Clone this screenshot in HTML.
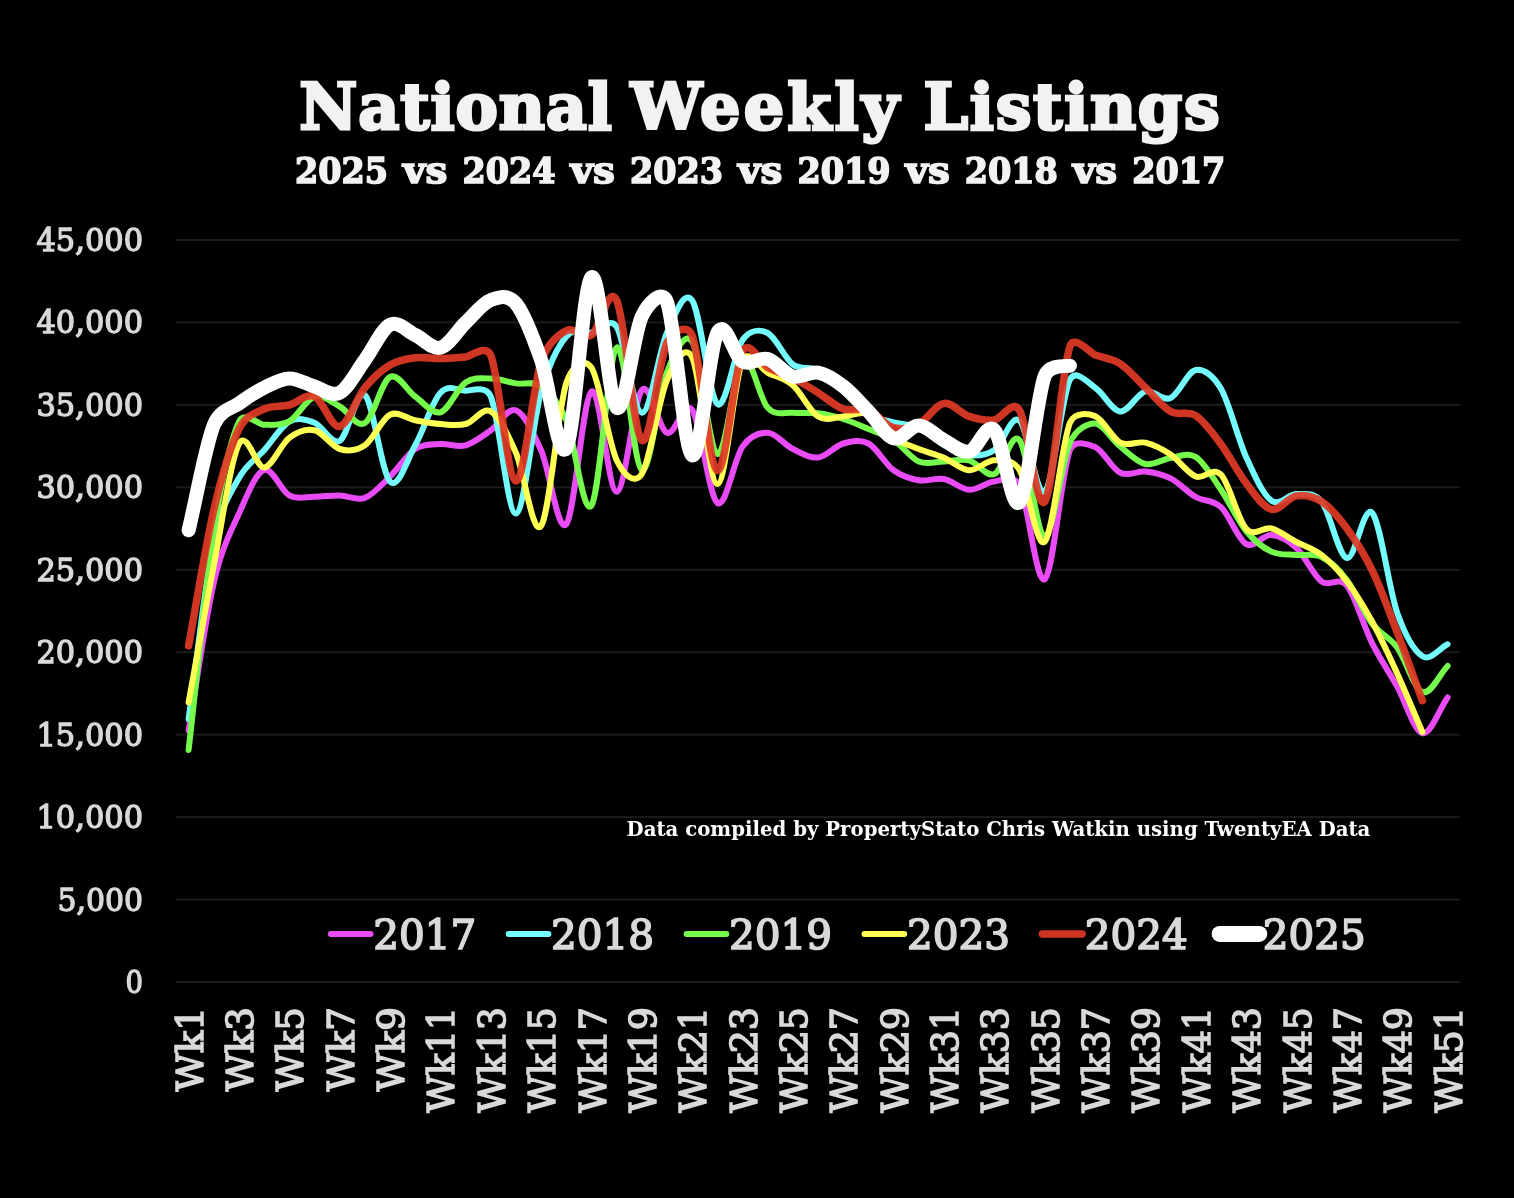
<!DOCTYPE html><html><head><meta charset="utf-8"><title>National Weekly Listings</title>
<style>html,body{margin:0;padding:0;background:#000}svg{display:block}text{font-family:"DejaVu Serif","Liberation Serif",serif}</style></head><body>
<svg width="1514" height="1198" viewBox="0 0 1514 1198">
<rect width="1514" height="1198" fill="#000"/>
<rect x="176" y="981.0" width="1284" height="2" fill="#1b1b1b"/>
<rect x="176" y="898.6" width="1284" height="2" fill="#1b1b1b"/>
<rect x="176" y="816.1" width="1284" height="2" fill="#1b1b1b"/>
<rect x="176" y="733.7" width="1284" height="2" fill="#1b1b1b"/>
<rect x="176" y="651.2" width="1284" height="2" fill="#1b1b1b"/>
<rect x="176" y="568.8" width="1284" height="2" fill="#1b1b1b"/>
<rect x="176" y="486.3" width="1284" height="2" fill="#1b1b1b"/>
<rect x="176" y="403.9" width="1284" height="2" fill="#1b1b1b"/>
<rect x="176" y="321.4" width="1284" height="2" fill="#1b1b1b"/>
<rect x="176" y="239.0" width="1284" height="2" fill="#1b1b1b"/>
<text x="143" y="993.0" text-anchor="end" font-size="32" fill="#d9d9d9" stroke="#d9d9d9" stroke-width="1.4" textLength="17.5" lengthAdjust="spacingAndGlyphs">0</text>
<text x="143" y="910.6" text-anchor="end" font-size="32" fill="#d9d9d9" stroke="#d9d9d9" stroke-width="1.4" textLength="85.5" lengthAdjust="spacingAndGlyphs">5,000</text>
<text x="143" y="828.1" text-anchor="end" font-size="32" fill="#d9d9d9" stroke="#d9d9d9" stroke-width="1.4" textLength="106.5" lengthAdjust="spacingAndGlyphs">10,000</text>
<text x="143" y="745.7" text-anchor="end" font-size="32" fill="#d9d9d9" stroke="#d9d9d9" stroke-width="1.4" textLength="106.5" lengthAdjust="spacingAndGlyphs">15,000</text>
<text x="143" y="663.2" text-anchor="end" font-size="32" fill="#d9d9d9" stroke="#d9d9d9" stroke-width="1.4" textLength="106.5" lengthAdjust="spacingAndGlyphs">20,000</text>
<text x="143" y="580.8" text-anchor="end" font-size="32" fill="#d9d9d9" stroke="#d9d9d9" stroke-width="1.4" textLength="106.5" lengthAdjust="spacingAndGlyphs">25,000</text>
<text x="143" y="498.3" text-anchor="end" font-size="32" fill="#d9d9d9" stroke="#d9d9d9" stroke-width="1.4" textLength="106.5" lengthAdjust="spacingAndGlyphs">30,000</text>
<text x="143" y="415.9" text-anchor="end" font-size="32" fill="#d9d9d9" stroke="#d9d9d9" stroke-width="1.4" textLength="106.5" lengthAdjust="spacingAndGlyphs">35,000</text>
<text x="143" y="333.4" text-anchor="end" font-size="32" fill="#d9d9d9" stroke="#d9d9d9" stroke-width="1.4" textLength="106.5" lengthAdjust="spacingAndGlyphs">40,000</text>
<text x="143" y="251.0" text-anchor="end" font-size="32" fill="#d9d9d9" stroke="#d9d9d9" stroke-width="1.4" textLength="106.5" lengthAdjust="spacingAndGlyphs">45,000</text>
<path d="M188.6 730.5C197.0 681.2 205.4 618.9 213.8 582.7C222.1 546.8 230.6 532.1 239.0 513.5C247.4 494.7 255.7 472.9 264.1 469.9C272.5 466.9 280.9 490.9 289.3 495.4C297.7 499.9 306.1 496.7 314.5 496.7C322.9 496.7 331.3 495.2 339.7 495.4C348.1 495.6 356.5 501.0 364.9 497.9C373.3 494.8 381.6 484.8 390.0 476.6C398.4 468.5 406.8 454.4 415.2 449.0C423.6 443.6 432.0 444.6 440.4 444.0C448.8 443.4 457.2 447.6 465.6 445.3C474.0 443.0 482.4 436.1 490.8 430.3C499.2 424.5 507.5 407.0 515.9 410.3C524.3 413.6 532.7 431.3 541.1 450.3C549.5 469.3 557.9 534.0 566.3 524.2C574.7 514.4 583.1 396.9 591.5 391.5C599.9 386.1 608.3 491.9 616.7 491.7C625.1 491.5 633.4 400.0 641.8 390.2C650.2 380.4 658.6 429.5 667.0 432.8C675.4 436.1 683.8 398.3 692.2 410.0C700.6 421.7 709.0 496.9 717.4 503.0C725.8 509.1 734.2 458.3 742.6 446.6C750.9 434.9 759.4 432.4 767.7 432.8C776.1 433.2 784.5 444.9 792.9 449.0C801.3 453.1 809.7 458.4 818.1 457.5C826.5 456.6 834.9 445.8 843.3 443.5C851.7 441.2 860.1 439.0 868.5 443.5C876.9 448.0 885.2 464.2 893.6 470.3C902.0 476.4 910.4 478.9 918.8 480.3C927.2 481.8 935.6 477.4 944.0 479.0C952.4 480.6 960.8 489.4 969.2 489.8C977.6 490.2 986.0 482.3 994.4 481.5C1000.2 480.9 1013.7 473.7 1019.5 485.0C1027.9 501.3 1036.3 585.0 1044.7 579.2C1053.1 573.4 1061.5 472.2 1069.9 450.2C1074.4 438.3 1090.6 445.0 1095.1 447.0C1103.5 450.8 1111.9 468.7 1120.3 472.8C1128.7 476.9 1137.0 470.6 1145.4 471.5C1153.8 472.4 1162.2 474.1 1170.6 478.4C1179.0 482.6 1187.4 492.2 1195.8 497.0C1204.2 501.8 1212.6 499.3 1221.0 507.1C1229.4 514.9 1237.8 539.4 1246.2 544.0C1254.6 548.6 1262.9 534.3 1271.3 535.0C1279.7 535.7 1288.1 540.2 1296.5 548.0C1304.9 555.8 1313.3 575.4 1321.7 581.6C1329.8 587.6 1338.8 575.6 1346.9 585.5C1355.3 595.8 1363.7 626.4 1372.1 643.2C1380.5 660.0 1388.8 671.5 1397.2 686.5C1405.6 701.5 1414.0 731.4 1422.4 733.2C1430.8 735.0 1439.2 709.3 1447.6 697.4" fill="none" stroke="#e94bf6" stroke-width="6" stroke-linecap="round" stroke-linejoin="round"/>
<path d="M188.6 719.2C197.0 659.3 205.4 579.7 213.8 539.5C220.6 506.9 232.2 489.9 239.0 477.9C247.4 463.0 255.7 459.7 264.1 450.3C272.5 440.9 280.9 426.1 289.3 421.5C297.7 416.9 306.1 419.6 314.5 422.8C322.9 426.0 331.3 445.4 339.7 440.8C348.1 436.2 356.5 388.4 364.9 395.2C373.3 402.0 381.6 473.2 390.0 481.6C398.4 490.0 406.8 460.1 415.2 445.3C423.6 430.5 432.0 401.8 440.4 392.7C448.8 383.6 457.2 390.1 465.6 390.7C470.5 391.1 485.9 384.5 490.8 396.5C499.2 417.0 507.5 514.2 515.9 513.5C524.3 512.8 532.7 421.5 541.1 392.0C549.5 362.7 558.0 346.3 566.3 336.5C574.5 326.8 583.2 334.2 591.5 332.6C598.3 331.3 609.8 316.1 616.7 327.0C625.1 340.4 633.4 411.9 641.8 412.8C650.2 413.7 658.6 351.3 667.0 332.6C675.4 314.0 683.9 288.7 692.2 300.5C700.6 312.4 709.0 397.4 717.4 404.0C725.8 410.6 734.2 351.8 742.6 340.0C750.1 329.3 760.2 329.3 767.7 333.0C776.1 337.1 784.5 358.3 792.9 364.5C801.3 370.7 809.7 365.6 818.1 370.0C826.5 374.4 834.9 383.7 843.3 391.0C851.7 398.3 860.1 408.8 868.5 414.0C876.9 419.2 885.2 420.2 893.6 422.5C902.0 424.8 910.4 423.9 918.8 427.7C927.2 431.4 935.6 440.4 944.0 445.0C952.4 449.6 960.8 454.5 969.2 455.3C977.6 456.1 986.0 455.8 994.4 450.0C1002.8 444.2 1011.1 413.7 1019.5 420.6C1027.9 427.5 1036.3 498.4 1044.7 491.6C1053.1 484.8 1061.5 397.0 1069.9 379.7C1075.7 367.8 1089.3 384.0 1095.1 387.6C1103.5 392.9 1111.9 410.8 1120.3 411.4C1128.7 412.0 1137.0 393.6 1145.4 391.4C1153.8 389.2 1162.2 401.6 1170.6 398.0C1179.0 394.4 1187.4 371.5 1195.8 370.0C1203.7 368.6 1213.1 375.2 1221.0 388.8C1229.4 403.3 1237.8 438.6 1246.2 457.2C1254.6 475.8 1262.9 494.5 1271.3 500.6C1279.7 506.8 1288.1 493.9 1296.5 494.1C1304.7 494.3 1313.6 491.4 1321.7 501.7C1330.1 512.4 1338.5 556.1 1346.9 558.0C1355.3 559.9 1363.7 503.7 1372.1 512.8C1380.5 521.9 1388.8 588.9 1397.2 612.8C1405.6 636.5 1414.1 651.0 1422.4 656.2C1430.8 661.5 1439.2 648.3 1447.6 644.3" fill="none" stroke="#73fbfd" stroke-width="6" stroke-linecap="round" stroke-linejoin="round"/>
<path d="M188.6 750.0C197.0 677.2 205.4 586.2 213.8 531.5C222.2 476.8 230.6 439.6 239.0 421.8C244.4 410.3 258.7 424.8 264.1 424.8C272.5 424.7 280.9 426.1 289.3 421.4C297.7 416.7 306.1 399.0 314.5 396.5C322.9 394.0 331.3 402.1 339.7 406.5C348.1 410.9 356.5 427.9 364.9 423.0C373.3 418.1 381.6 381.4 390.0 377.0C398.4 372.6 406.8 390.6 415.2 396.5C423.6 402.4 432.0 414.6 440.4 412.3C448.8 410.0 457.2 388.1 465.6 382.5C474.0 376.9 482.4 378.4 490.8 378.5C499.2 378.6 507.5 382.1 515.9 383.4C524.3 384.7 532.7 380.4 541.1 386.5C549.3 392.4 558.1 400.7 566.3 420.0C574.7 439.8 583.1 517.5 591.5 505.5C599.9 493.4 608.3 353.6 616.7 347.7C625.1 341.8 633.4 465.9 641.8 470.0C650.2 474.1 658.6 393.4 667.0 372.0C674.2 353.6 685.0 329.8 692.2 341.5C700.6 355.2 709.0 450.9 717.4 454.0C725.8 457.1 734.2 367.7 742.6 360.0C751.0 352.3 759.3 399.0 767.7 407.8C776.1 416.6 784.5 411.9 792.9 412.8C801.3 413.7 809.7 412.3 818.1 413.3C826.5 414.3 834.9 416.4 843.3 419.0C851.7 421.6 860.1 425.5 868.5 429.0C876.9 432.5 885.2 434.6 893.6 440.0C902.0 445.4 910.4 457.9 918.8 461.5C927.2 465.1 935.6 461.7 944.0 461.5C952.4 461.3 960.8 458.2 969.2 460.3C977.6 462.4 986.0 477.4 994.4 474.0C1002.8 470.6 1011.1 430.0 1019.5 440.2C1027.9 450.4 1036.3 535.0 1044.7 535.4C1053.1 535.8 1061.5 461.3 1069.9 442.7C1076.4 428.3 1088.6 423.0 1095.1 423.5C1103.5 424.1 1111.9 439.8 1120.3 446.5C1128.7 453.2 1137.0 462.1 1145.4 464.0C1153.8 465.9 1162.2 459.2 1170.6 458.0C1179.0 456.8 1187.4 451.7 1195.8 457.0C1204.2 462.3 1212.6 477.5 1221.0 489.8C1229.4 502.1 1237.8 520.7 1246.2 531.0C1254.6 541.3 1262.9 547.6 1271.3 551.6C1279.7 555.6 1288.1 554.0 1296.5 554.9C1304.9 555.8 1313.3 552.8 1321.7 557.0C1330.1 561.2 1338.5 568.9 1346.9 580.0C1355.3 591.1 1363.7 612.4 1372.1 623.6C1380.5 634.9 1388.8 636.1 1397.2 647.5C1405.6 658.9 1414.0 688.9 1422.4 692.0C1430.8 695.1 1439.2 674.7 1447.6 666.0" fill="none" stroke="#75fb4c" stroke-width="6" stroke-linecap="round" stroke-linejoin="round"/>
<path d="M188.6 702.4C197.0 656.8 205.4 608.6 213.8 565.5C222.2 522.4 230.6 460.4 239.0 444.0C246.8 428.7 256.3 468.4 264.1 467.4C272.5 466.4 280.9 444.0 289.3 437.8C297.7 431.6 306.1 428.4 314.5 430.3C322.9 432.2 331.3 446.5 339.7 449.0C348.1 451.5 356.5 451.0 364.9 445.3C373.3 439.6 381.6 419.0 390.0 414.8C398.4 410.6 406.8 418.8 415.2 420.3C423.6 421.8 432.0 423.4 440.4 424.0C448.8 424.6 457.2 426.1 465.6 424.0C474.0 421.9 482.4 406.7 490.8 411.5C499.2 416.3 507.5 433.7 515.9 452.8C524.3 471.9 532.7 537.6 541.1 526.0C549.5 514.4 557.9 409.4 566.3 383.0C570.8 369.0 583.4 355.4 591.5 367.7C599.9 380.6 608.3 442.6 616.7 460.3C622.8 473.3 634.2 486.1 641.8 474.0C650.2 460.6 658.6 399.4 667.0 380.0C673.7 364.5 684.8 342.2 692.2 357.4C700.6 374.7 709.0 483.6 717.4 484.0C725.8 484.4 734.2 378.6 742.6 360.0C748.4 347.2 761.9 369.8 767.7 372.7C776.1 376.9 784.5 377.9 792.9 385.2C801.3 392.5 809.7 411.3 818.1 416.5C826.5 421.7 834.9 416.9 843.3 416.5C851.7 416.1 860.1 410.5 868.5 414.0C876.9 417.5 885.2 431.9 893.6 437.7C902.0 443.5 910.4 445.6 918.8 449.0C927.2 452.4 935.6 454.2 944.0 457.8C952.4 461.4 960.8 469.9 969.2 470.3C977.6 470.7 986.0 460.4 994.4 460.3C1001.5 460.3 1012.4 458.5 1019.5 470.0C1027.9 483.6 1036.3 549.6 1044.7 541.7C1053.1 533.8 1061.5 443.7 1069.9 422.8C1074.7 410.7 1090.2 414.2 1095.1 416.1C1103.5 419.4 1111.9 438.3 1120.3 442.7C1128.7 447.1 1137.0 440.7 1145.4 442.7C1153.8 444.7 1162.2 449.0 1170.6 454.6C1179.0 460.2 1187.4 473.2 1195.8 476.5C1204.2 479.8 1212.6 465.9 1221.0 474.6C1229.4 483.3 1237.8 519.8 1246.2 528.8C1254.6 537.8 1262.9 526.2 1271.3 528.4C1279.7 530.6 1288.1 537.6 1296.5 542.0C1304.9 546.4 1313.3 548.4 1321.7 555.0C1330.1 561.6 1338.5 570.4 1346.9 581.5C1355.3 592.6 1363.7 606.2 1372.1 621.5C1380.5 636.8 1388.8 655.1 1397.2 673.5C1405.6 691.9 1414.0 712.6 1422.4 732.1" fill="none" stroke="#ffff54" stroke-width="6" stroke-linecap="round" stroke-linejoin="round"/>
<path d="M188.6 645.8C197.0 600.5 205.4 546.1 213.8 510.0C222.2 473.9 230.6 445.8 239.0 429.0C246.1 414.6 257.0 412.4 264.1 409.0C272.5 405.0 280.9 407.1 289.3 405.0C297.7 402.9 306.1 392.9 314.5 396.5C322.9 400.1 331.3 428.0 339.7 426.5C348.1 425.0 356.5 397.9 364.9 387.7C373.3 377.4 381.6 370.0 390.0 365.0C398.4 360.0 406.8 358.8 415.2 357.7C423.6 356.6 432.0 358.7 440.4 358.6C448.8 358.5 457.2 357.6 465.6 357.0C470.3 356.7 486.0 343.6 490.8 355.3C499.2 376.0 507.5 479.9 515.9 481.0C524.3 482.1 532.7 387.1 541.1 362.0C547.5 342.9 559.9 334.0 566.3 330.6C574.7 326.1 583.1 340.1 591.5 335.0C599.9 329.9 608.3 282.8 616.7 300.3C625.1 317.9 633.4 433.2 641.8 440.3C650.2 447.4 658.6 360.1 667.0 342.6C672.7 330.8 687.4 323.3 692.2 335.5C700.6 356.8 709.0 467.9 717.4 470.5C725.8 473.1 734.2 368.5 742.6 351.4C749.2 337.9 761.1 364.2 767.7 367.7C776.1 372.1 784.5 373.8 792.9 378.0C801.3 382.2 809.7 387.5 818.1 392.7C826.5 397.9 834.9 406.1 843.3 409.0C851.7 411.9 860.1 406.9 868.5 410.0C876.9 413.1 885.2 425.4 893.6 427.7C902.0 430.0 910.4 428.1 918.8 424.0C927.2 419.9 935.6 404.7 944.0 403.4C952.4 402.1 960.8 413.6 969.2 416.4C977.6 419.2 986.0 421.0 994.4 420.0C1001.5 419.1 1012.4 398.7 1019.5 410.2C1027.9 423.8 1036.3 512.2 1044.7 501.6C1053.1 491.0 1061.5 370.8 1069.9 346.4C1074.2 333.8 1090.8 353.5 1095.1 355.0C1103.5 357.9 1111.9 358.4 1120.3 363.8C1128.7 369.2 1137.0 379.7 1145.4 387.6C1153.8 395.6 1162.2 406.8 1170.6 411.5C1179.0 416.2 1187.4 410.2 1195.8 415.6C1204.2 421.1 1212.6 432.9 1221.0 444.2C1229.4 455.5 1237.8 472.4 1246.2 483.3C1254.6 494.2 1262.9 507.2 1271.3 509.3C1279.7 511.4 1288.1 497.2 1296.5 495.9C1304.9 494.6 1313.3 496.3 1321.7 501.7C1330.1 507.1 1338.5 517.1 1346.9 528.5C1355.3 539.9 1363.7 552.9 1372.1 570.2C1380.5 587.5 1388.8 610.5 1397.2 632.3C1405.6 654.0 1414.0 677.9 1422.4 700.7" fill="none" stroke="#df3a25" stroke-width="7.5" stroke-linecap="round" stroke-linejoin="round" stroke-opacity="0.92"/>
<path d="M188.6 530.3C197.0 495.2 205.4 446.1 213.8 425.0C219.9 409.6 232.8 408.0 239.0 403.5C247.4 397.3 255.7 391.9 264.1 387.7C272.5 383.5 280.9 378.6 289.3 378.4C297.7 378.2 306.1 384.1 314.5 386.5C322.9 388.9 331.3 397.1 339.7 392.7C348.1 388.3 356.5 371.3 364.9 360.0C373.3 348.7 381.6 328.9 390.0 324.7C398.4 320.5 406.8 331.2 415.2 335.0C423.6 338.8 432.0 349.8 440.4 347.7C448.8 345.6 457.2 330.6 465.6 322.6C474.0 314.7 482.4 303.2 490.8 300.0C498.9 296.9 507.8 293.8 515.9 303.5C524.3 313.5 532.7 335.9 541.1 360.0C549.5 384.1 557.9 461.8 566.3 448.0C574.7 434.2 583.1 284.0 591.5 277.3C599.9 270.6 608.3 401.3 616.7 407.8C625.1 414.3 633.4 334.1 641.8 316.5C648.1 303.4 662.1 288.3 667.0 302.0C675.4 325.1 683.8 450.2 692.2 455.3C700.6 460.4 709.0 348.3 717.4 332.7C725.8 317.1 734.2 357.1 742.6 361.5C751.0 365.9 759.3 356.5 767.7 359.0C776.1 361.5 784.5 374.2 792.9 376.5C801.3 378.8 809.7 371.1 818.1 372.7C826.5 374.3 834.9 379.9 843.3 386.4C851.7 392.8 860.1 402.8 868.5 411.4C876.9 420.0 885.2 435.9 893.6 438.3C902.0 440.7 910.4 425.2 918.8 425.5C927.2 425.8 935.6 435.9 944.0 440.2C952.4 444.5 960.8 453.2 969.2 451.5C977.6 449.8 986.0 421.7 994.4 430.2C1002.8 438.7 1011.1 511.3 1019.5 502.3C1027.9 493.3 1036.3 398.8 1044.7 376.0C1049.4 363.2 1067.5 366.7 1069.9 365.7" fill="none" stroke="#ffffff" stroke-width="14" stroke-linecap="round" stroke-linejoin="round"/>
<g font-weight="bold" fill="#f2f2f2" stroke="#f2f2f2" stroke-linejoin="miter">
<text x="299.2" y="129.4" font-size="63.5" stroke-width="3" textLength="312.7" lengthAdjust="spacing">National</text>
<text x="630.7" y="129.4" font-size="63.5" stroke-width="3" textLength="268.0" lengthAdjust="spacing">Weekly</text>
<text x="923.5" y="129.4" font-size="63.5" stroke-width="3" textLength="296.2" lengthAdjust="spacing">Listings</text>
<text x="295.0" y="182.6" font-size="35" stroke-width="1.6" textLength="93" lengthAdjust="spacingAndGlyphs">2025</text>
<text x="403.0" y="182.6" font-size="35" stroke-width="1.6" textLength="44.4" lengthAdjust="spacingAndGlyphs">vs</text>
<text x="462.5" y="182.6" font-size="35" stroke-width="1.6" textLength="93" lengthAdjust="spacingAndGlyphs">2024</text>
<text x="570.5" y="182.6" font-size="35" stroke-width="1.6" textLength="44.4" lengthAdjust="spacingAndGlyphs">vs</text>
<text x="629.9" y="182.6" font-size="35" stroke-width="1.6" textLength="93" lengthAdjust="spacingAndGlyphs">2023</text>
<text x="737.9" y="182.6" font-size="35" stroke-width="1.6" textLength="44.4" lengthAdjust="spacingAndGlyphs">vs</text>
<text x="797.4" y="182.6" font-size="35" stroke-width="1.6" textLength="93" lengthAdjust="spacingAndGlyphs">2019</text>
<text x="905.4" y="182.6" font-size="35" stroke-width="1.6" textLength="44.4" lengthAdjust="spacingAndGlyphs">vs</text>
<text x="964.8" y="182.6" font-size="35" stroke-width="1.6" textLength="93" lengthAdjust="spacingAndGlyphs">2018</text>
<text x="1072.8" y="182.6" font-size="35" stroke-width="1.6" textLength="44.4" lengthAdjust="spacingAndGlyphs">vs</text>
<text x="1132.3" y="182.6" font-size="35" stroke-width="1.6" textLength="93" lengthAdjust="spacingAndGlyphs">2017</text>
</g>
<text x="626.6" y="835.9" font-size="21.2" font-weight="bold" fill="#fff" textLength="743.8" lengthAdjust="spacingAndGlyphs">Data compiled by PropertyStato Chris Watkin using TwentyEA Data</text>
<line x1="330.8" y1="933.9" x2="370.5" y2="933.9" stroke="#e94bf6" stroke-width="6" stroke-linecap="round"/>
<text x="373.2" y="949.2" font-size="41.5" fill="#d9d9d9" stroke="#d9d9d9" stroke-width="1.7" textLength="103" lengthAdjust="spacingAndGlyphs">2017</text>
<line x1="508.7" y1="933.9" x2="548.4" y2="933.9" stroke="#73fbfd" stroke-width="6" stroke-linecap="round"/>
<text x="551.1" y="949.2" font-size="41.5" fill="#d9d9d9" stroke="#d9d9d9" stroke-width="1.7" textLength="103" lengthAdjust="spacingAndGlyphs">2018</text>
<line x1="686.6" y1="933.9" x2="726.3" y2="933.9" stroke="#75fb4c" stroke-width="6" stroke-linecap="round"/>
<text x="729.0" y="949.2" font-size="41.5" fill="#d9d9d9" stroke="#d9d9d9" stroke-width="1.7" textLength="103" lengthAdjust="spacingAndGlyphs">2019</text>
<line x1="864.5" y1="933.9" x2="904.2" y2="933.9" stroke="#ffff54" stroke-width="6" stroke-linecap="round"/>
<text x="906.9" y="949.2" font-size="41.5" fill="#d9d9d9" stroke="#d9d9d9" stroke-width="1.7" textLength="103" lengthAdjust="spacingAndGlyphs">2023</text>
<line x1="1042.4" y1="933.9" x2="1082.1" y2="933.9" stroke="#cd3522" stroke-width="7.5" stroke-linecap="round"/>
<text x="1084.8" y="949.2" font-size="41.5" fill="#d9d9d9" stroke="#d9d9d9" stroke-width="1.7" textLength="103" lengthAdjust="spacingAndGlyphs">2024</text>
<line x1="1219.6" y1="933.9" x2="1259.3" y2="933.9" stroke="#ffffff" stroke-width="16" stroke-linecap="round"/>
<text x="1262.7" y="949.2" font-size="41.5" fill="#d9d9d9" stroke="#d9d9d9" stroke-width="1.7" textLength="103" lengthAdjust="spacingAndGlyphs">2025</text>
<text transform="translate(202.6,1007) rotate(-90)" text-anchor="end" font-size="36.6" fill="#d9d9d9" stroke="#d9d9d9" stroke-width="1.5" textLength="84.5" lengthAdjust="spacingAndGlyphs">Wk1</text>
<text transform="translate(253.0,1007) rotate(-90)" text-anchor="end" font-size="36.6" fill="#d9d9d9" stroke="#d9d9d9" stroke-width="1.5" textLength="84.5" lengthAdjust="spacingAndGlyphs">Wk3</text>
<text transform="translate(303.3,1007) rotate(-90)" text-anchor="end" font-size="36.6" fill="#d9d9d9" stroke="#d9d9d9" stroke-width="1.5" textLength="84.5" lengthAdjust="spacingAndGlyphs">Wk5</text>
<text transform="translate(353.7,1007) rotate(-90)" text-anchor="end" font-size="36.6" fill="#d9d9d9" stroke="#d9d9d9" stroke-width="1.5" textLength="84.5" lengthAdjust="spacingAndGlyphs">Wk7</text>
<text transform="translate(404.0,1007) rotate(-90)" text-anchor="end" font-size="36.6" fill="#d9d9d9" stroke="#d9d9d9" stroke-width="1.5" textLength="84.5" lengthAdjust="spacingAndGlyphs">Wk9</text>
<text transform="translate(454.4,1007) rotate(-90)" text-anchor="end" font-size="36.6" fill="#d9d9d9" stroke="#d9d9d9" stroke-width="1.5" textLength="105.7" lengthAdjust="spacingAndGlyphs">Wk11</text>
<text transform="translate(504.8,1007) rotate(-90)" text-anchor="end" font-size="36.6" fill="#d9d9d9" stroke="#d9d9d9" stroke-width="1.5" textLength="105.7" lengthAdjust="spacingAndGlyphs">Wk13</text>
<text transform="translate(555.1,1007) rotate(-90)" text-anchor="end" font-size="36.6" fill="#d9d9d9" stroke="#d9d9d9" stroke-width="1.5" textLength="105.7" lengthAdjust="spacingAndGlyphs">Wk15</text>
<text transform="translate(605.5,1007) rotate(-90)" text-anchor="end" font-size="36.6" fill="#d9d9d9" stroke="#d9d9d9" stroke-width="1.5" textLength="105.7" lengthAdjust="spacingAndGlyphs">Wk17</text>
<text transform="translate(655.8,1007) rotate(-90)" text-anchor="end" font-size="36.6" fill="#d9d9d9" stroke="#d9d9d9" stroke-width="1.5" textLength="105.7" lengthAdjust="spacingAndGlyphs">Wk19</text>
<text transform="translate(706.2,1007) rotate(-90)" text-anchor="end" font-size="36.6" fill="#d9d9d9" stroke="#d9d9d9" stroke-width="1.5" textLength="105.7" lengthAdjust="spacingAndGlyphs">Wk21</text>
<text transform="translate(756.6,1007) rotate(-90)" text-anchor="end" font-size="36.6" fill="#d9d9d9" stroke="#d9d9d9" stroke-width="1.5" textLength="105.7" lengthAdjust="spacingAndGlyphs">Wk23</text>
<text transform="translate(806.9,1007) rotate(-90)" text-anchor="end" font-size="36.6" fill="#d9d9d9" stroke="#d9d9d9" stroke-width="1.5" textLength="105.7" lengthAdjust="spacingAndGlyphs">Wk25</text>
<text transform="translate(857.3,1007) rotate(-90)" text-anchor="end" font-size="36.6" fill="#d9d9d9" stroke="#d9d9d9" stroke-width="1.5" textLength="105.7" lengthAdjust="spacingAndGlyphs">Wk27</text>
<text transform="translate(907.6,1007) rotate(-90)" text-anchor="end" font-size="36.6" fill="#d9d9d9" stroke="#d9d9d9" stroke-width="1.5" textLength="105.7" lengthAdjust="spacingAndGlyphs">Wk29</text>
<text transform="translate(958.0,1007) rotate(-90)" text-anchor="end" font-size="36.6" fill="#d9d9d9" stroke="#d9d9d9" stroke-width="1.5" textLength="105.7" lengthAdjust="spacingAndGlyphs">Wk31</text>
<text transform="translate(1008.4,1007) rotate(-90)" text-anchor="end" font-size="36.6" fill="#d9d9d9" stroke="#d9d9d9" stroke-width="1.5" textLength="105.7" lengthAdjust="spacingAndGlyphs">Wk33</text>
<text transform="translate(1058.7,1007) rotate(-90)" text-anchor="end" font-size="36.6" fill="#d9d9d9" stroke="#d9d9d9" stroke-width="1.5" textLength="105.7" lengthAdjust="spacingAndGlyphs">Wk35</text>
<text transform="translate(1109.1,1007) rotate(-90)" text-anchor="end" font-size="36.6" fill="#d9d9d9" stroke="#d9d9d9" stroke-width="1.5" textLength="105.7" lengthAdjust="spacingAndGlyphs">Wk37</text>
<text transform="translate(1159.4,1007) rotate(-90)" text-anchor="end" font-size="36.6" fill="#d9d9d9" stroke="#d9d9d9" stroke-width="1.5" textLength="105.7" lengthAdjust="spacingAndGlyphs">Wk39</text>
<text transform="translate(1209.8,1007) rotate(-90)" text-anchor="end" font-size="36.6" fill="#d9d9d9" stroke="#d9d9d9" stroke-width="1.5" textLength="105.7" lengthAdjust="spacingAndGlyphs">Wk41</text>
<text transform="translate(1260.2,1007) rotate(-90)" text-anchor="end" font-size="36.6" fill="#d9d9d9" stroke="#d9d9d9" stroke-width="1.5" textLength="105.7" lengthAdjust="spacingAndGlyphs">Wk43</text>
<text transform="translate(1310.5,1007) rotate(-90)" text-anchor="end" font-size="36.6" fill="#d9d9d9" stroke="#d9d9d9" stroke-width="1.5" textLength="105.7" lengthAdjust="spacingAndGlyphs">Wk45</text>
<text transform="translate(1360.9,1007) rotate(-90)" text-anchor="end" font-size="36.6" fill="#d9d9d9" stroke="#d9d9d9" stroke-width="1.5" textLength="105.7" lengthAdjust="spacingAndGlyphs">Wk47</text>
<text transform="translate(1411.2,1007) rotate(-90)" text-anchor="end" font-size="36.6" fill="#d9d9d9" stroke="#d9d9d9" stroke-width="1.5" textLength="105.7" lengthAdjust="spacingAndGlyphs">Wk49</text>
<text transform="translate(1461.6,1007) rotate(-90)" text-anchor="end" font-size="36.6" fill="#d9d9d9" stroke="#d9d9d9" stroke-width="1.5" textLength="105.7" lengthAdjust="spacingAndGlyphs">Wk51</text>
</svg></body></html>
